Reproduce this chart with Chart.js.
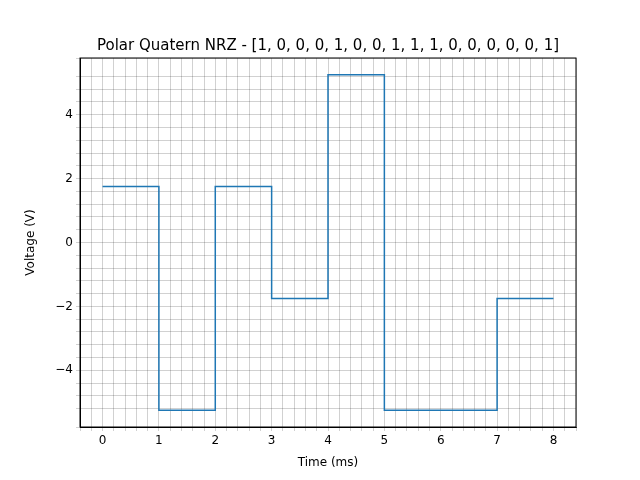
<!DOCTYPE html>
<html>
<head>
<meta charset="utf-8">
<script src="https://cdn.jsdelivr.net/npm/chart.js@4"></script>
<style>
  body { margin: 0; background: #fff; }
  #wrap { width: 640px; height: 480px; }
</style>
</head>
<body>
<div id="wrap"><canvas id="c" width="640" height="480"></canvas></div>
<script>
// bit times (ms) and voltage level held from each time
const times = [0, 1, 2, 3, 4, 5, 6, 7, 8];
const levels = [1.75, -5.25, 1.75, -1.75, 5.25, -5.25, -5.25, -1.75, -1.75];
const bits = [1, 0, 0, 0, 1, 0, 0, 1, 1, 1, 0, 0, 0, 0, 0, 1];

const near = (v, s) => Math.abs(v / s - Math.round(v / s)) < 1e-6;
const fmt = v => { const r = Math.round(v); return r < 0 ? '\u2212' + (-r) : String(r); };

Chart.defaults.font.family = 'DejaVu Sans';
Chart.defaults.color = '#000';

// title centred over the plot, plus a full box round the plot area
const frame = {
    id: 'frame',
    afterDraw(chart) {
        const { ctx, chartArea: a } = chart;
        ctx.save();
        ctx.strokeStyle = '#000';
        ctx.lineWidth = 1;
        ctx.strokeRect(a.left, a.top, a.right - a.left, a.bottom - a.top);
        ctx.font = '15px DejaVu Sans';
        ctx.fillStyle = '#000';
        ctx.textAlign = 'center';
        ctx.textBaseline = 'alphabetic';
        ctx.fillText('Polar Quatern NRZ - [' + bits.join(', ') + ']', (a.left + a.right) / 2, 50);
        ctx.restore();
    }
};

new Chart(document.getElementById('c'), {
    type: 'line',
    data: {
        datasets: [{
            data: times.map((t, i) => ({ x: t, y: levels[i] })),
            stepped: 'before',
            borderColor: '#1f77b4',
            borderWidth: 1.5,
            pointRadius: 0,
            fill: false
        }]
    },
    options: {
        responsive: false,
        animation: false,
        layout: { padding: { top: 58, right: 64, left: 24, bottom: 10 } },
        plugins: {
            legend: { display: false },
            tooltip: { enabled: false },
            title: { display: false }
        },
        scales: {
            x: {
                type: 'linear',
                min: -0.4,
                max: 8.4,
                afterFit: s => { s.height = 43; },
                ticks: {
                    stepSize: 0.2,
                    autoSkip: false,
                    maxRotation: 0,
                    font: { size: 12 },
                    callback: v => near(v, 1) ? fmt(v) : ''
                },
                grid: { color: 'rgba(0,0,0,0.3)', lineWidth: 0.6, tickLength: 4 },
                border: { color: '#000' },
                title: { display: true, text: 'Time (ms)', font: { size: 12 }, padding: 0 }
            },
            y: {
                min: -5.775,
                max: 5.775,
                afterFit: s => { s.width = 56; },
                ticks: {
                    stepSize: 0.4,
                    autoSkip: false,
                    font: { size: 12 },
                    callback: v => near(v, 2) ? fmt(v) : ''
                },
                grid: { color: 'rgba(0,0,0,0.3)', lineWidth: 0.6, tickLength: 4 },
                border: { color: '#000' },
                title: { display: true, text: 'Voltage (V)', font: { size: 12 }, padding: 0 }
            }
        }
    },
    plugins: [frame]
});
</script>
</body>
</html>
